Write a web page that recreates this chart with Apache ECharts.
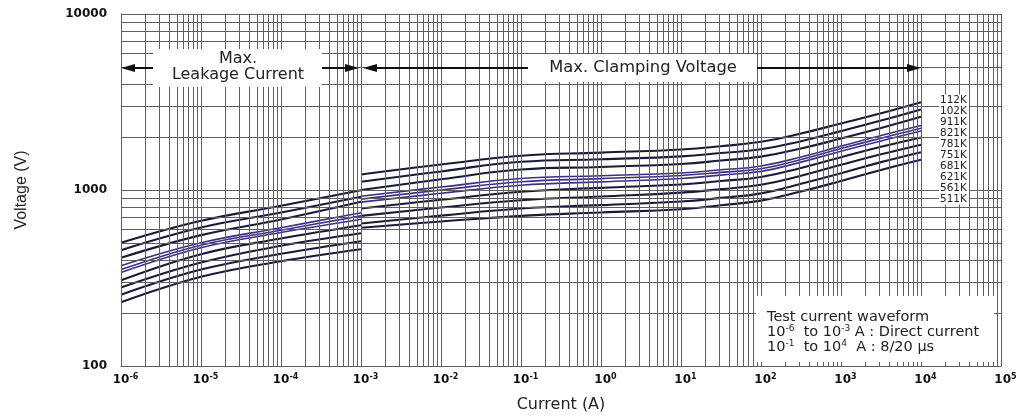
<!DOCTYPE html>
<html><head><meta charset="utf-8">
<script src="https://cdn.jsdelivr.net/npm/echarts@6/dist/echarts.min.js"></script>
<style>html,body{margin:0;padding:0;background:#fff}#c{width:1021px;height:418px}</style>
</head><body><div id="c"></div>
<script>
// ---- data ----
const models = ['112K','102K','911K','821K','781K','751K','681K','621K','561K','511K'];
const leakCurrents  = [1e-6, 1e-5, 1e-4, 1e-3];
const clampCurrents = [1e-3, 1e-2, 1e-1, 1, 10, 31.6, 100, 316, 1000, 3162, 10000];

const leak112K = [501, 668, 813, 997];
const leak102K = [455, 612, 745, 915];
const leak911K = [412, 554, 680, 857];
const leak821K = [371, 501, 610, 742];
const leak781K = [353, 486, 591, 713];
const leak751K = [340, 470, 573, 682];
const leak681K = [307, 432, 530, 631];
const leak621K = [279, 387, 482, 568];
const leak561K = [254, 353, 434, 512];
const leak511K = [230, 321, 394, 461];

const clamp112K = [1225, 1395, 1564, 1630, 1700, 1774, 1880, 2094, 2390, 2730, 3155];
const clamp102K = [1113, 1275, 1446, 1495, 1553, 1621, 1705, 1893, 2160, 2480, 2870];
const clamp911K = [1000, 1150, 1307, 1352, 1406, 1470, 1548, 1721, 1960, 2250, 2605];
const clamp821K = [922, 1040, 1162, 1205, 1249, 1303, 1370, 1540, 1775, 2040, 2325];
const clamp781K = [887, 1000, 1113, 1160, 1210, 1260, 1320, 1490, 1720, 1970, 2246];
const clamp751K = [853, 958, 1065, 1112, 1163, 1215, 1276, 1440, 1660, 1900, 2163];
const clamp681K = [785, 880, 977, 1028, 1075, 1124, 1185, 1335, 1535, 1760, 1990];
const clamp621K = [713, 795, 875, 918, 966, 1011, 1071, 1205, 1390, 1595, 1810];
const clamp561K = [645, 715, 785, 820, 860, 902, 957, 1085, 1245, 1440, 1640];
const clamp511K = [610, 662, 713, 745, 778, 819, 870, 980, 1125, 1300, 1485];

const xTickExps = ['-6','-5','-4','-3','-2','-1','0','1','2','3','4','5'];
const yTickLabels = ['100','1000','10000'];
const minorMults = [2,3,4,5,6,7,8,9];

// ---- build ----
const leakSets  = [leak112K,leak102K,leak911K,leak821K,leak781K,leak751K,leak681K,leak621K,leak561K,leak511K];
const clampSets = [clamp112K,clamp102K,clamp911K,clamp821K,clamp781K,clamp751K,clamp681K,clamp621K,clamp561K,clamp511K];
const purple = {'821K':1,'781K':1,'751K':1};

const FONT = 'DejaVu Sans';
const vLines = [];
xTickExps.forEach((e, i) => {
  const d = Math.pow(10, Number(e));
  vLines.push(d);
  if (i < xTickExps.length - 1) minorMults.forEach(m => vLines.push(m * d));
});
const hLines = [];
yTickLabels.forEach((t, i) => {
  const d = Number(t);
  hLines.push(d);
  if (i < yTickLabels.length - 1) minorMults.forEach(m => hLines.push(m * d));
});
const gridStyle = {color:'#5f5f5f', width:1, type:'solid'};
function gridSeries(name, arr, key, z) {
  return {type:'line', name, data:[], z, silent:true, animation:false,
    markLine:{silent:true, symbol:'none', animation:false, precision:12, label:{show:false},
      emphasis:{disabled:true}, lineStyle:gridStyle,
      data: arr.map(v => ({[key]: v}))}};
}

const series = [gridSeries('vgrid', vLines, 'xAxis', 1), gridSeries('hgrid', hLines, 'yAxis', 3)];
models.forEach((m, i) => {
  const isP = purple[m];
  const ls = {color: isP ? '#3f2f80' : '#1b1a36', width: isP ? 1.6 : 2.1};
  series.push({type:'line', name:m+' leak', z:4, smooth:0.4, symbol:'none', silent:true,
    lineStyle:ls, data: leakCurrents.map((c, j) => [c, leakSets[i][j]])});
  series.push({type:'line', name:m+' clamp', z:4, smooth:0.45, symbol:'none', silent:true,
    lineStyle:ls, data: clampCurrents.map((c, j) => [c, clampSets[i][j]])});
});

// annotation graphics
const AY = 68;
const g = [];
function arrow(x1, x2, tipAtX2) {
  const tip = tipAtX2 ? x2 : x1;
  const dir = tipAtX2 ? -1 : 1;
  g.push({type:'line', z:50, shape:{x1: tipAtX2 ? x1 : x1 + 10, y1:AY, x2: tipAtX2 ? x2 - 10 : x2, y2:AY},
    style:{stroke:'#111', lineWidth:2}});
  g.push({type:'polygon', z:50, shape:{points:[[tip, AY],[tip + dir*14, AY-4],[tip + dir*14, AY+4]]},
    style:{fill:'#111'}});
}
g.push({type:'rect', z:2, shape:{x:927, y:94, width:50, height:111}, style:{fill:'#fff'}});
g.push({type:'rect', z:40, shape:{x:153, y:49, width:169, height:38}, style:{fill:'#fff'}});
g.push({type:'rect', z:40, shape:{x:528, y:54, width:229, height:28}, style:{fill:'#fff'}});
g.push({type:'rect', z:40, shape:{x:756, y:296, width:238, height:66}, style:{fill:'#fff'}});
arrow(121, 153, false);
arrow(322, 359, true);
arrow(363, 528, false);
arrow(757, 921, true);
g.push({type:'text', z:51, style:{x:238, y:67, text:'Max.\nLeakage Current', align:'center', verticalAlign:'middle',
  font:'16px "DejaVu Sans"', lineHeight:16, fill:'#222'}});
g.push({type:'text', z:51, style:{x:643, y:68, text:'Max. Clamping Voltage', align:'center', verticalAlign:'middle',
  font:'16.3px "DejaVu Sans"', fill:'#222'}});
g.push({type:'text', z:51, style:{x:767, y:332, verticalAlign:'middle', fill:'#222', font:'14.5px "DejaVu Sans"', lineHeight:15,
  text:'Test current waveform\n10{s|-6}  to 10{s|-3} A : Direct current\n10{s|-1}  to 10{s|4}  A : 8/20 μs',
  rich:{s:{font:'9px "DejaVu Sans"', lineHeight:15, fill:'#222', verticalAlign:'top', padding:[0,0,6,0]}}}});
models.forEach((m, i) => {
  g.push({type:'text', z:52, style:{x:939, y:100 + i*11, text:m, verticalAlign:'middle', align:'left',
    font:'10.5px "DejaVu Sans"', fill:'#222', backgroundColor:'#fff', padding:[0,2,0,1]}});
});

const option = {
  animation:false,
  backgroundColor:'#fff',
  grid:{left:121, right:20, top:14, bottom:51, containLabel:false},
  xAxis:{type:'log', logBase:10, min:1e-6, max:1e5, interval:1,
    name:'Current (A)', nameLocation:'middle', nameGap:31,
    nameTextStyle:{fontFamily:FONT, fontSize:16, color:'#222'},
    axisLine:{show:true, lineStyle:{color:'#5f5f5f', width:1}},
    axisTick:{show:false}, splitLine:{show:false}, minorTick:{show:false},
    axisLabel:{interval:0, margin:7, showMinLabel:true, showMaxLabel:true, padding:[0,0,0,9],
      formatter: v => { const e = Math.round(Math.log10(v)); const idx = xTickExps.indexOf(String(e));
        return idx < 0 ? '' : '{b|10}{s|' + xTickExps[idx] + '}'; },
      rich:{b:{fontFamily:FONT, fontWeight:'bold', fontSize:12, color:'#111'},
            s:{fontFamily:FONT, fontWeight:'bold', fontSize:8, color:'#111', verticalAlign:'top', padding:[0,0,6,0]}}}},
  yAxis:{type:'log', logBase:10, min:100, max:10000, interval:1,
    name:'Voltage (V)', nameLocation:'middle', nameGap:91, nameRotate:90,
    nameTextStyle:{fontFamily:'Liberation Sans', fontSize:16, color:'#222'},
    axisLine:{show:true, lineStyle:{color:'#5f5f5f', width:1}},
    axisTick:{show:false}, splitLine:{show:false}, minorTick:{show:false},
    axisLabel:{margin:14, fontFamily:FONT, fontWeight:'bold', fontSize:12, color:'#111',
      formatter: v => { const idx = yTickLabels.indexOf(String(Math.round(v))); return idx < 0 ? '' : yTickLabels[idx]; }}},
  graphic:{elements:g},
  series
};
const chart = echarts.init(document.getElementById('c'), null, {renderer:'canvas'});
chart.setOption(option);
</script></body></html>
